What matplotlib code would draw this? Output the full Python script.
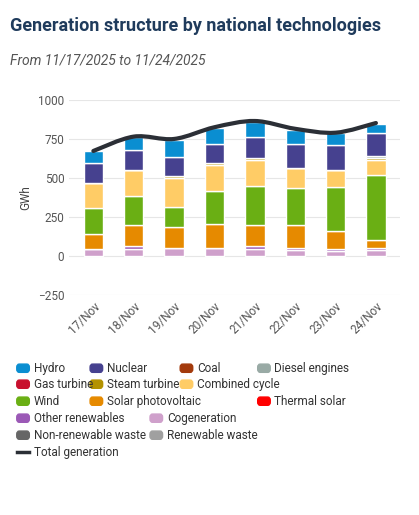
import matplotlib
matplotlib.use("Agg")
import matplotlib.pyplot as plt
import numpy as np
from matplotlib.lines import Line2D
from matplotlib.path import Path
from matplotlib.patches import PathPatch, FancyBboxPatch

plt.rcParams['font.family'] = ['Roboto', 'DejaVu Sans']

days = ["17/Nov","18/Nov","19/Nov","20/Nov","21/Nov","22/Nov","23/Nov","24/Nov"]
cogeneration = [47, 47, 54, 54, 47, 41, 34, 41]
other_renew  = [0, 15, 0, 0, 15, 13, 13, 13]
solar_pv     = [97, 134, 129, 150, 134, 142, 112, 47]
wind         = [163, 187, 129, 211, 251, 238, 282, 417]
combined     = [160, 167, 189, 168, 168, 129, 109, 97]
steam        = [0, 0, 11, 13, 13, 0, 0, 11]
diesel       = [0, 0, 0, 0, 0, 0, 0, 13]
nuclear      = [131, 130, 122, 124, 135, 155, 162, 146]
hydro        = [75, 83, 112, 102, 95, 88, 73, 62]
total        = [673, 765, 750, 825, 865, 815, 790, 852]

series = [
    ("Cogeneration", cogeneration, "#cfa0cb"),
    ("Other renewables", other_renew, "#9b59b6"),
    ("Solar photovoltaic", solar_pv, "#e68a00"),
    ("Wind", wind, "#6aaf14"),
    ("Combined cycle", combined, "#ffcc66"),
    ("Steam turbine", steam, "#b39200"),
    ("Diesel engines", diesel, "#99aaa5"),
    ("Nuclear", nuclear, "#46418f"),
    ("Hydro", hydro, "#0a8ed1"),
]

fig = plt.figure(figsize=(4.19, 5.15), dpi=100)
ax = fig.add_axes([0.165, 0.427, 0.79, 0.379])
x = np.arange(len(days))
bottom = np.zeros(len(days))
for name, vals, col in series:
    v = np.array(vals, float)
    ax.bar(x, v, 0.48, bottom=bottom, color=col, edgecolor="white", linewidth=1, zorder=2)
    bottom += v

# smooth total line (Catmull-Rom through data points, drawn as Bezier path)
t = np.array(total, float)
verts = [(x[0], t[0])]
codes = [Path.MOVETO]
for i in range(len(x) - 1):
    p0 = (x[max(i-1, 0)], t[max(i-1, 0)]); p1 = (x[i], t[i])
    p2 = (x[i+1], t[i+1]); p3 = (x[min(i+2, len(x)-1)], t[min(i+2, len(x)-1)])
    c1 = (p1[0] + (p2[0]-p0[0])/6, p1[1] + (p2[1]-p0[1])/6)
    c2 = (p2[0] - (p3[0]-p1[0])/6, p2[1] - (p3[1]-p1[1])/6)
    verts += [c1, c2, p2]; codes += [Path.CURVE4]*3
ax.add_patch(PathPatch(Path(verts, codes), fill=False, edgecolor="#2b2f36", lw=3, zorder=3, capstyle="round"))

ax.set_ylim(-250, 1000)
ax.set_yticks([-250, 0, 250, 500, 750, 1000])
ax.set_xlim(-0.6, 7.6)
ax.set_xticks(x)
ax.set_xticklabels(days, rotation=45, ha="right", rotation_mode="anchor", color="#555")
ax.set_ylabel("GWh", color="#444", fontsize=8.5)
ax.grid(axis="y", color="#e6e6e6", zorder=0)
for s in ax.spines.values():
    s.set_visible(False)
ax.tick_params(length=0, labelsize=8.5, colors="#555")

fig.text(0.025, 0.94, "Generation structure by national technologies", fontsize=13,
         fontweight="bold", color="#1f3b5c")
fig.text(0.025, 0.875, "From 11/17/2025 to 11/24/2025", fontsize=10, style="italic", color="#555")

cmap = {"Hydro": "#0a8ed1", "Nuclear": "#46418f", "Coal": "#a33a0c", "Diesel engines": "#99aaa5",
        "Gas turbine": "#c8102e", "Steam turbine": "#b39200", "Combined cycle": "#ffcc66",
        "Thermal solar": "#ff0000", "Wind": "#6aaf14", "Solar photovoltaic": "#e68a00",
        "Other renewables": "#9b59b6", "Cogeneration": "#cfa0cb",
        "Non-renewable waste": "#666666", "Renewable waste": "#a0a0a0"}
order = [("Hydro",0.04,0.285),("Nuclear",0.215,0.285),("Coal",0.43,0.285),("Diesel engines",0.615,0.285),
         ("Gas turbine",0.04,0.254),("Steam turbine",0.215,0.254),("Combined cycle",0.43,0.254),
         ("Wind",0.04,0.221),("Solar photovoltaic",0.215,0.221),("Thermal solar",0.615,0.221),
         ("Other renewables",0.04,0.188),("Cogeneration",0.358,0.188),
         ("Non-renewable waste",0.04,0.155),("Renewable waste",0.358,0.155)]
for name, px, py in order:
    fig.patches.append(FancyBboxPatch((px, py - 0.008), 0.03, 0.016,
        boxstyle="round,pad=0,rounding_size=0.006", transform=fig.transFigure,
        color=cmap[name], figure=fig))
    fig.text(px + 0.04, py, name, fontsize=8.5, va="center", color="#333")
fig.lines.append(Line2D([0.04, 0.07], [0.122, 0.122], color="#2b2f36", lw=2.5, transform=fig.transFigure))
fig.text(0.08, 0.122, "Total generation", fontsize=8.5, va="center", color="#333")

fig.savefig("out.png", dpi=100)
